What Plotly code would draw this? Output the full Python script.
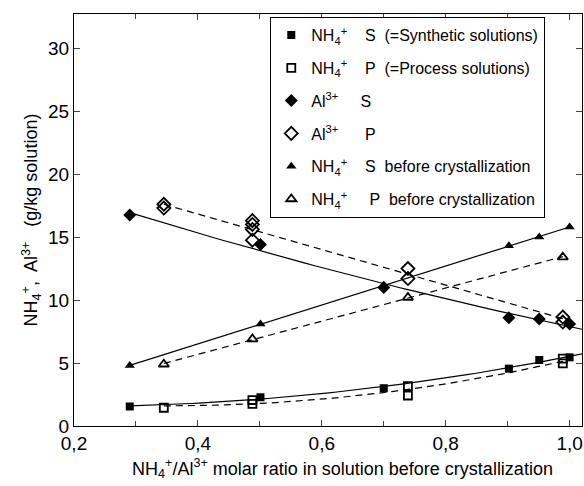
import numpy as np
import plotly.graph_objects as go

# ---- data ----
x_nh4_S = [0.29, 0.501, 0.70, 0.902, 0.951, 1.0]
y_nh4_S = [1.55, 2.28, 3.0, 4.55, 5.24, 5.45]

x_nh4_P = [0.345, 0.488, 0.488, 0.739, 0.739, 0.989, 0.989]
y_nh4_P = [1.45, 2.06, 1.75, 3.17, 2.42, 5.35, 4.97]

x_al_S = [0.29, 0.501, 0.70, 0.902, 0.951, 1.0]
y_al_S = [16.75, 14.4, 11.0, 8.6, 8.5, 8.1]

x_al_P = [0.345, 0.345, 0.488, 0.488, 0.488, 0.488, 0.739, 0.739, 0.989, 0.989]
y_al_P = [17.6, 17.3, 16.3, 16.0, 15.6, 14.75, 12.5, 11.7, 8.65, 8.25]

x_nh4bc_S = [0.29, 0.501, 0.70, 0.902, 0.951, 1.0]
y_nh4bc_S = [4.8, 8.1, 11.15, 14.3, 15.0, 15.8]

x_nh4bc_P = [0.345, 0.488, 0.739, 0.989]
y_nh4bc_P = [4.9, 6.9, 10.2, 13.4]

x_ticks = [0.2, 0.4, 0.6, 0.8, 1.0]
y_ticks = [0, 5, 10, 15, 20, 25, 30]

NB = "\u00a0"
NH4 = "NH<sub>4</sub><sup>+</sup>"
AL = "Al<sup>3+</sup>"

series = [
    (NH4 + NB * 4 + "S" + NB * 2 + "(=Synthetic solutions)", x_nh4_S, y_nh4_S, "square", 2, "solid", 1.02),
    (NH4 + NB * 4 + "P" + NB * 2 + "(=Process solutions)", x_nh4_P, y_nh4_P, "square-open", 2, "dash", None),
    (AL + NB * 5 + "S", x_al_S, y_al_S, "diamond", 2, "solid", 1.02),
    (AL + NB * 6 + "P", x_al_P, y_al_P, "diamond-open", 1, "dash", None),
    (NH4 + NB * 4 + "S" + NB * 2 + "before crystallization", x_nh4bc_S, y_nh4bc_S, "triangle-up", 1, "solid", None),
    (NH4 + NB * 5 + "P" + NB * 2 + "before crystallization", x_nh4bc_P, y_nh4bc_P, "triangle-up-open", 1, "dash", None),
]

fig = go.Figure()

# fit curves (regression lines through each series)
for name, xs, ys, sym, deg, dash, xend in series:
    c = np.polyfit(xs, ys, deg)
    x0 = min(xs)
    x1 = xend if xend is not None else max(xs)
    xf = np.linspace(x0, x1, 60)
    fig.add_trace(go.Scatter(x=xf, y=np.polyval(c, xf), mode="lines",
                             line=dict(color="black", width=1.2,
                                       dash="7px,5px" if dash == "dash" else "solid"),
                             showlegend=False, hoverinfo="skip"))

sizes = {"square": 8, "square-open": 8, "diamond": 10, "diamond-open": 10,
         "triangle-up": 9, "triangle-up-open": 9}
for i, (name, xs, ys, sym, deg, dash, xend) in enumerate(series):
    fig.add_trace(go.Scatter(x=xs, y=ys, mode="markers", name=name, legendgroup=f"g{i}",
                             marker=dict(symbol=sym, size=sizes[sym], color="black",
                                         line=dict(color="black", width=1.8 if "open" in sym else 0))))

fig.add_annotation(
    text="NH<sub>4</sub><sup>+</sup>/Al<sup>3+</sup> molar ratio in solution before crystallization",
    xref="paper", yref="paper", x=0.528, y=-0.102, xanchor="center", yanchor="middle",
    showarrow=False, font=dict(size=18))

fig.update_layout(
    width=584, height=486,
    margin=dict(l=74, r=2, t=14, b=60),
    paper_bgcolor="white", plot_bgcolor="white",
    separators=", ",
    font=dict(family="Liberation Sans, Arial, sans-serif", size=18, color="black"),
    legend=dict(x=0.386, y=0.993, xanchor="left", yanchor="top",
                bordercolor="black", borderwidth=1.2, bgcolor="white",
                font=dict(size=16), tracegroupgap=9, itemwidth=30),
    xaxis=dict(range=[0.2, 1.02], tickvals=x_ticks, tickformat=".1f", automargin=False,
               tickfont=dict(size=19),
               ticks="inside", ticklen=6, tickwidth=1, showline=True, linewidth=1.2,
               linecolor="black", mirror="ticks", showgrid=False, zeroline=False,
               minor=dict(dtick=0.1, tick0=0.2, ticks="inside", ticklen=5, tickwidth=1, showgrid=False)),
    yaxis=dict(range=[0, 32.7], tickvals=y_ticks, automargin=False,
               tickfont=dict(size=19),
               ticks="inside", ticklen=6, tickwidth=1, showline=True, linewidth=1.2,
               linecolor="black", mirror="ticks", showgrid=False, zeroline=False,
               title=dict(text="NH<sub>4</sub><sup>+</sup>,  Al<sup>3+</sup>" + NB * 3 + "(g/kg solution)" + NB * 5,
                          standoff=5, font=dict(size=18))),
)

fig.write_html("out.html", config={"displayModeBar": False},
               post_script="document.body.style.margin='0';document.body.style.overflow='hidden';")
